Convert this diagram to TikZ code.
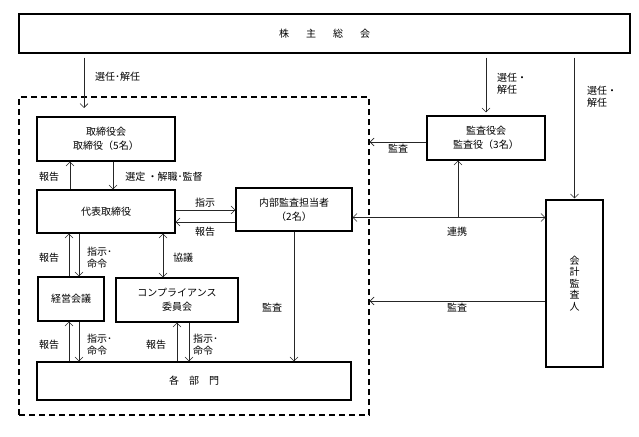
\documentclass[tikz,border=0pt]{standalone}
\usepackage{fontspec}
\setmainfont{Noto Sans CJK JP}
\usetikzlibrary{arrows.meta,positioning,calc}

\begin{document}
\begin{tikzpicture}[
    x=1pt, y=-1pt,
    >={Straight Barb[length=4pt,width=8pt]},
    box/.style={
        rectangle, draw, line width=1.2pt, inner sep=0pt,
        align=center, font=\fontsize{10}{14}\selectfont
    },
    lbl/.style={inner sep=0pt, align=left, font=\fontsize{10}{12.5}\selectfont},
    conn/.style={line width=0.6pt, draw=black!85}
]
\useasboundingbox (0,0) rectangle (639,436);

% Top: shareholders' meeting
\node[box, minimum width=611pt, minimum height=39pt] (soukai) at (324.5,33.5)
    {株\hspace{17pt}主\hspace{17pt}総\hspace{17pt}会};

% Dashed frame round the company
\node[draw, dashed, line width=1.3pt, dash pattern=on 6pt off 4pt,
      minimum width=350pt, minimum height=318pt] (group) at (194,256) {};

% Boxes inside the frame
\node[box, minimum width=138pt, minimum height=44pt] (torishimari) at (106,139) {取締役会\\取締役（5名）};
\node[box, minimum width=138pt, minimum height=43pt] (daihyo) at (106,211.5) {代表取締役};
\node[box, minimum width=116pt, minimum height=43pt] (naibu) at (294,209.5) {内部監査担当者\\（2名）};
\node[box, minimum width=66pt, minimum height=44pt] (keiei) at (71,299) {経営会議};
\node[box, minimum width=122pt, minimum height=44pt] (comp) at (177,300) {コンプライアンス\\委員会};
\node[box, minimum width=314pt, minimum height=38pt] (kakubu) at (194,381)
    {各\hspace{10pt}部\hspace{10pt}門};

% Boxes outside the frame
\node[box, minimum width=118pt, minimum height=44pt] (kansayaku) at (486,138) {監査役会\\監査役（3名）};
\node[box, minimum width=57pt, minimum height=167pt,
      font=\fontsize{10}{11.5}\selectfont] (kaikei) at (574.5,283.5) {会\\計\\監\\査\\人};

% Appointment from the shareholders' meeting
\coordinate (selL) at (84,108);
\coordinate (selR) at (486,108);
\draw[conn, ->, shorten <=4pt] (soukai.south -| selL) -- (selL);
\draw[conn, ->, shorten <=4pt, shorten >=3pt] (soukai.south -| selR) -- (kansayaku.north);
\draw[conn, ->, shorten <=4pt, shorten >=1pt] (soukai.south -| kaikei.north) -- (kaikei.north);
\node[lbl, anchor=west] (l1) at (95,77) {選任･解任};
\node[lbl, anchor=west] (l2) at (497,83.5) {選任・\\解任};
\node[lbl, anchor=west] (l3) at (587,96.5) {選任・\\解任};

% Audit arrows into the frame
\draw[conn, ->] ([yshift=-4pt]kansayaku.west) -- ([yshift=-4pt]kansayaku.west -| group.east);
\node[lbl] (l4) at (398,149) {監査};
\draw[conn, ->] ([yshift=-17.5pt]kaikei.west) -- ([yshift=-17.5pt]kaikei.west -| group.east);
\node[lbl] (l5) at (457,308) {監査};

% Cooperation
\coordinate (rk) at (458,217.5);
\draw[conn, <->] (naibu.east |- rk) -- (kaikei.west |- rk);
\draw[conn, ->] (rk) -- (rk |- kansayaku.south);
\node[lbl] (l6) at (457,232) {連携};

% Board <-> representative director
\draw[conn, ->] ([xshift=-36pt]daihyo.north) -- ([xshift=-36pt]torishimari.south);
\draw[conn, ->] ([xshift=7pt]torishimari.south) -- ([xshift=7pt]daihyo.north);
\node[lbl] (l7) at (49,177) {報告};
\node[lbl] (l8) at (164,177) {選定 ・解職･監督};

% Representative director <-> internal audit
\draw[conn, ->] ([yshift=1.5pt]daihyo.east) -- ([yshift=1.5pt]daihyo.east -| naibu.west);
\draw[conn, ->] ([yshift=-10.5pt]daihyo.east -| naibu.west) -- ([yshift=-10.5pt]daihyo.east);
\node[lbl] (l9) at (205,203) {指示};
\node[lbl] (l10) at (205,232) {報告};

% Representative director <-> management meeting / compliance
\draw[conn, ->] ([xshift=-2pt]keiei.north) -- ([xshift=-2pt]keiei.north |- daihyo.south);
\draw[conn, ->] ([xshift=8pt]keiei.north |- daihyo.south) -- ([xshift=8pt]keiei.north);
\draw[conn, <->] ([xshift=-14pt]comp.north |- daihyo.south) -- ([xshift=-14pt]comp.north);
\node[lbl] (l11) at (49,258) {報告};
\node[lbl, anchor=west] (l12) at (87,257.5) {指示･\\命令};
\node[lbl] (l13) at (183,258) {協議};

% Down to the departments
\draw[conn, ->] ([xshift=-2pt]keiei.south |- kakubu.north) -- ([xshift=-2pt]keiei.south);
\draw[conn, ->] ([xshift=8pt]keiei.south) -- ([xshift=8pt]keiei.south |- kakubu.north);
\draw[conn, ->] (comp.south |- kakubu.north) -- (comp.south);
\draw[conn, ->] ([xshift=12pt]comp.south) -- ([xshift=12pt]comp.south |- kakubu.north);
\draw[conn, ->] (naibu.south) -- (naibu.south |- kakubu.north);
\node[lbl] (l14) at (49,345) {報告};
\node[lbl, anchor=west] (l15) at (87,344.5) {指示･\\命令};
\node[lbl] (l16) at (156,345) {報告};
\node[lbl, anchor=west] (l17) at (193,344.5) {指示･\\命令};
\node[lbl] (l18) at (272,308) {監査};

\end{tikzpicture}
\end{document}
